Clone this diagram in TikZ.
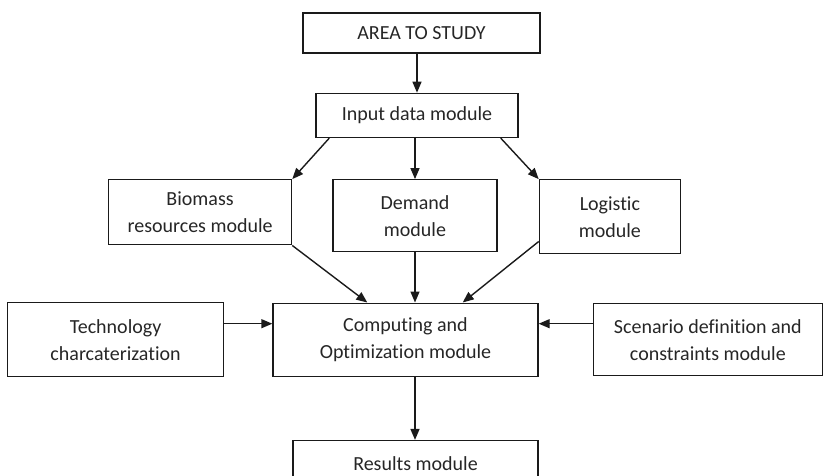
\documentclass[tikz,border=0pt]{standalone}
\usepackage{fontspec}
\setmainfont{Carlito}[Ligatures=NoCommon]
\usepackage{tikz}
\usetikzlibrary{arrows.meta,positioning}
\definecolor{textgray}{HTML}{262626}
\definecolor{linegray}{HTML}{1A1A1A}
\tikzset{
  modbox/.style={draw=linegray, line width=1.4pt, align=center, inner sep=4pt, font=\fontsize{20}{27}\selectfont, text=textgray},
  modarrow/.style={-{Triangle[length=11pt,width=9pt]}, line width=1.4pt, draw=linegray}
}

\begin{document}
\begin{tikzpicture}[x=1pt, y=1pt]
  \useasboundingbox (0,0) rectangle (823,-476);
  \node[modbox, minimum width=237pt, minimum height=40pt] (area) at (421.5,-33) {AREA TO STUDY};
  \node[modbox, minimum width=202pt, minimum height=44pt, below=39pt of area, xshift=-4.5pt] (input) {Input data module};
  \node[modbox, minimum width=164pt, minimum height=72pt, below=41pt of input, xshift=-2pt] (demand) {Demand\\module};
  \node[modbox, minimum width=183pt, minimum height=65pt, left=40pt of demand.north west, anchor=north east] (biomass) {Biomass\\resources module};
  \node[modbox, minimum width=141pt, minimum height=74pt, right=41pt of demand.north east, anchor=north west] (logistic) {Logistic\\module};
  \node[modbox, minimum width=265pt, minimum height=73pt, below=50pt of demand, xshift=-9.5pt] (comp) {Computing and\\Optimization module};
  \node[modbox, minimum width=216pt, minimum height=74pt, left=48pt of comp] (tech) {Technology\\charcaterization};
  \node[modbox, minimum width=229pt, minimum height=72pt, right=54pt of comp] (scenario) {Scenario definition and\\constraints module};
  \node[modbox, minimum width=245pt, minimum height=46pt, below=63pt of comp.south east, anchor=north east] (results) {Results module};
  % input to the three modules
  \draw[modarrow] (area.south -| input.north) -- (input.north);
  \draw[modarrow] ([xshift=14pt]input.south west) -- (biomass.north east);
  \draw[modarrow] (input.south -| demand.north) -- (demand.north);
  \draw[modarrow] ([xshift=-18pt]input.south east) -- (logistic.north west);
  % modules to computing
  \draw[modarrow] (biomass.south east) -- ([xshift=95pt]comp.north west);
  \draw[modarrow] (demand.south) -- (demand.south |- comp.north);
  \draw[modarrow] ([yshift=13pt]logistic.south west) -- ([xshift=-76pt]comp.north east);
  \draw[modarrow] ([yshift=16pt]tech.east) -- ([yshift=16pt]comp.west);
  \draw[modarrow] ([yshift=16pt]scenario.west) -- ([yshift=16pt]comp.east);
  \draw[modarrow] (comp.south -| demand.south) -- (results.north -| demand.south);
\end{tikzpicture}
\end{document}
